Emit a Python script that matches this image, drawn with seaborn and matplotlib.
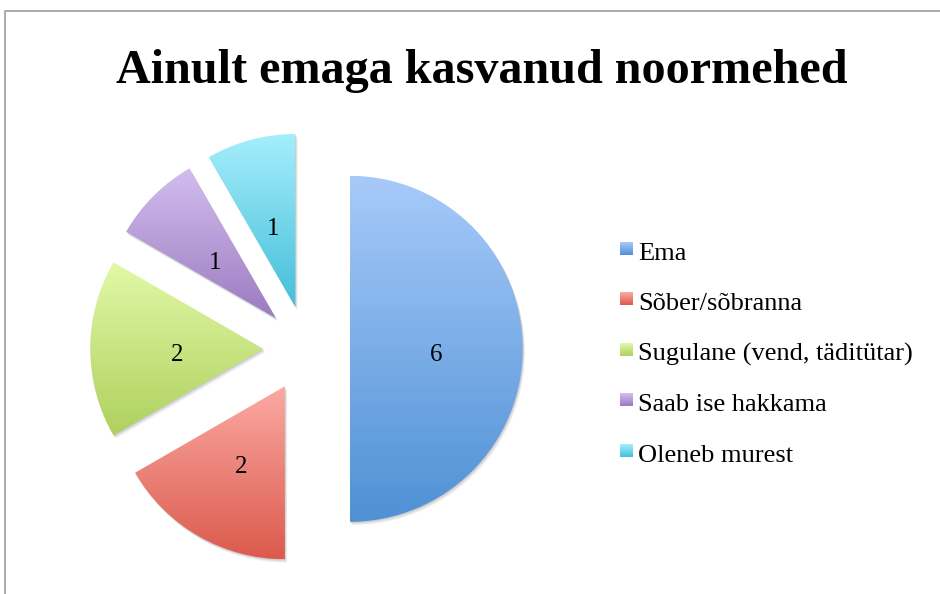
import numpy as np
import matplotlib
matplotlib.use("Agg")
import matplotlib.pyplot as plt
import seaborn as sns
from matplotlib.colors import to_rgb
from matplotlib.patches import Wedge
from matplotlib.lines import Line2D

# ---- data ----
title = "Ainult emaga kasvanud noormehed"
categories = ["Ema", "Sõber/sõbranna", "Sugulane (vend, täditütar)",
              "Saab ise hakkama", "Oleneb murest"]
values = [6, 2, 2, 1, 1]

# ---- style ----
top_colors = ["#A8CAFA", "#FBAAA3", "#E2F9A8", "#D3BDEF", "#A5EEFC"]
bottom_colors = ["#4E91D5", "#DC5A4D", "#AED15E", "#9B7CC0", "#44BFDA"]

sns.set_theme(style="white")
plt.rcParams["font.family"] = ["Liberation Serif", "DejaVu Serif"]

W, H = 940, 594
fig = plt.figure(figsize=(W / 100, H / 100), dpi=100)
fig.patch.set_facecolor("white")

PX = 173.0            # pixels per radius unit
cx, cy = 306.5, 348.8  # pie centre in pixels (from top-left)

ax = fig.add_axes([0, 0, 1, 1])
total = sum(values)
wedges, texts, autotexts = ax.pie(
    values, explode=[0.25] * len(values), startangle=90, counterclock=False,
    radius=1, autopct=lambda p: f"{p * total / 100:.0f}", pctdistance=0.5,
    textprops=dict(fontsize=18, color="black"),
    wedgeprops=dict(linewidth=0))
ax.set_aspect("auto")
ax.axis("off")


def grad(tc, bc, n=256):
    t = np.linspace(0, 1, n)[:, None]
    a, b = np.array(to_rgb(tc)), np.array(to_rgb(bc))
    return (a[None, None, :] * (1 - t[:, :, None]) + b[None, None, :] * t[:, :, None])


for w, tc, bc in zip(wedges, top_colors, bottom_colors):
    # soft shadow
    for k, al in [(1, 0.07), (2, 0.06), (3, 0.05), (4, 0.04)]:
        sh = Wedge((w.center[0] + k * 0.6 / PX, w.center[1] - k * 0.9 / PX), w.r,
                   w.theta1, w.theta2, facecolor="black", edgecolor="none",
                   alpha=al, zorder=0.5)
        ax.add_patch(sh)
    w.set_facecolor("none")
    w.set_edgecolor("none")
    bb = w.get_path().get_extents()
    im = ax.imshow(grad(tc, bc), extent=(bb.x0, bb.x1, bb.y0, bb.y1),
                   origin="upper", aspect="auto", zorder=1, interpolation="bilinear")
    im.set_clip_path(w)

for t in autotexts:
    x, y = t.get_position()
    t.set_position((x, y - 6.0 / PX))
    t.set_zorder(5)

ax.set_xlim(-cx / PX, (W - cx) / PX)
ax.set_ylim(-(H - cy) / PX, cy / PX)

# ---- overlay in pixel coordinates: border, title, legend ----
ov = fig.add_axes([0, 0, 1, 1], zorder=10)
ov.axis("off")
ov.patch.set_alpha(0)

ov.add_line(Line2D([4.5, 4.5, W], [H, 10.5, 10.5], color="#A6A6A6", lw=1.3))

ov.text(482, 83, title, ha="center", va="baseline", fontsize=34.7,
        fontweight="bold", color="black")

row0, step = 248.5, 50.4
for i, (lab, tc, bc) in enumerate(zip(categories, top_colors, bottom_colors)):
    yc = row0 + i * step
    ov.imshow(grad(tc, bc, 32), extent=(620, 633, yc + 6.5, yc - 6.5),
              aspect="auto", zorder=2, interpolation="bilinear")
    ov.text(638, yc + 11.5, lab, ha="left", va="baseline", fontsize=19,
            color="black")

ov.set_xlim(0, W)
ov.set_ylim(H, 0)

fig.savefig("out.png", dpi=100, facecolor="white")
